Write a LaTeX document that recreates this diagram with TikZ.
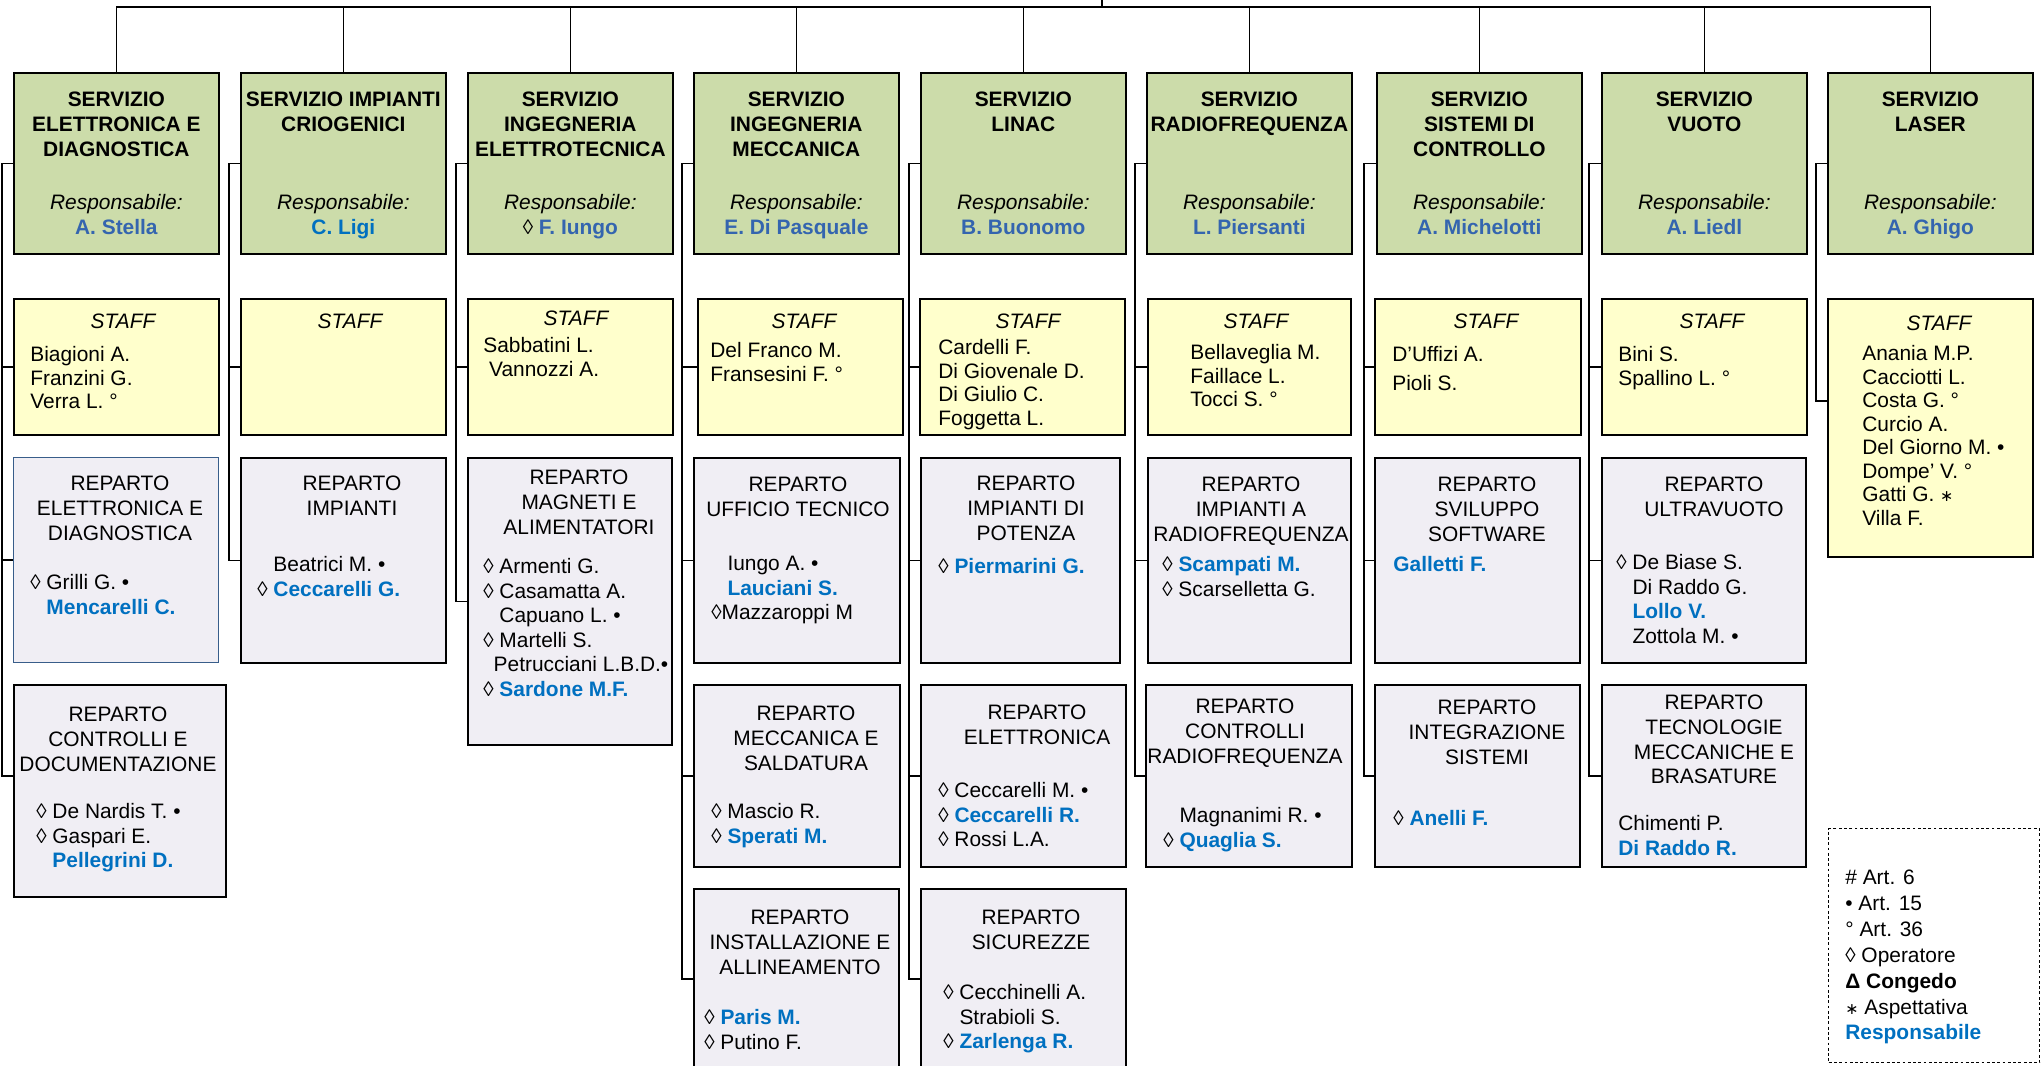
\documentclass[tikz,border=0pt]{standalone}
\usepackage{fontspec}
\setmainfont{Liberation Sans}
\newfontfamily\symfont{DejaVu Sans}

\definecolor{servgreen}{RGB}{204,220,170}
\definecolor{staffyellow}{RGB}{255,255,204}
\definecolor{repgrey}{RGB}{240,238,244}
\definecolor{respblue}{RGB}{0,112,192}
\definecolor{capoblue}{RGB}{52,101,175}
\definecolor{repborder}{RGB}{56,93,138}

\newcommand{\topstrut}{\rule{0pt}{12.2pt}}
\newcommand{\capo}[1]{{\color{capoblue}#1}\strut}
\newcommand{\resp}[1]{{\bfseries\color{respblue}#1}}
\newcommand{\respo}{\textmd{\textit{Responsabile:}}}
\newcommand{\ind}{\hphantom{◊}\ }
\newcommand{\asp}{{\symfont\fontsize{9}{9}\selectfont ∗}}

\begin{document}
\begin{tikzpicture}[x=0.02cm, y=-0.02cm,
            font=\fontsize{11.9}{14}\selectfont,
            conn/.style={line width=0.9pt},
            servizio/.style={draw, line width=1pt, fill=servgreen, anchor=north west, inner sep=0,
                minimum width=4.1cm, minimum height=3.62cm, align=center,
                font=\bfseries\fontsize{11.9}{14.2}\selectfont},
            staffbox/.style={draw, line width=1pt, fill=staffyellow, anchor=north west,
                minimum width=4.1cm, minimum height=2.72cm},
            reparto/.style={draw, line width=1pt, fill=repgrey, anchor=north west,
                minimum width=4.1cm, minimum height=4.1cm},
            legenda/.style={draw, line width=0.8pt, dash pattern=on 1.6pt off 1.4pt, anchor=north west,
                minimum width=4.22cm, minimum height=4.68cm},
            stafftitle/.style={inner sep=0, font=\itshape\fontsize{11.9}{14}\selectfont},
            titolo/.style={anchor=north, align=center, inner sep=0},
            nomi/.style={anchor=north west, align=left, inner sep=0},
            staffnomi/.style={nomi, font=\fontsize{11.9}{13.4}\selectfont}]
        \useasboundingbox (0,0) rectangle (2041,1065);
        \coordinate (top) at (1102,0);

        % servizi
        \node[servizio] (g1) at (13,72) {\topstrut SERVIZIO\\ELETTRONICA E\\DIAGNOSTICA\\[0.56cm]\respo\\\capo{A. Stella}};
        \node[servizio] (g2) at (240,72) {\topstrut SERVIZIO IMPIANTI\\CRIOGENICI\\[1.06cm]\respo\\{\color{respblue}C. Ligi}\strut};
        \node[servizio] (g3) at (467,72) {\topstrut SERVIZIO\\INGEGNERIA\\ELETTROTECNICA\\[0.56cm]\respo\\\textmd{◊} \capo{F. Iungo}};
        \node[servizio] (g4) at (693,72) {\topstrut SERVIZIO\\INGEGNERIA\\MECCANICA\\[0.56cm]\respo\\\capo{E. Di Pasquale}};
        \node[servizio] (g5) at (920,72) {\topstrut SERVIZIO\\LINAC\\[1.06cm]\respo\\\capo{B. Buonomo}};
        \node[servizio] (g6) at (1146,72) {\topstrut SERVIZIO\\RADIOFREQUENZA\\[1.06cm]\respo\\\capo{L. Piersanti}};
        \node[servizio] (g7) at (1376,72) {\topstrut SERVIZIO\\SISTEMI DI\\CONTROLLO\\[0.56cm]\respo\\\capo{A. Michelotti}};
        \node[servizio] (g8) at (1601,72) {\topstrut SERVIZIO\\VUOTO\\[1.06cm]\respo\\\capo{A. Liedl}};
        \node[servizio] (g9) at (1827,72) {\topstrut SERVIZIO\\LASER\\[1.06cm]\respo\\\capo{A. Ghigo}};

        \draw[conn] (top) -- ++(0,7) -| (g1.north);
        \draw[conn] (top) -- ++(0,7) -| (g2.north);
        \draw[conn] (top) -- ++(0,7) -| (g3.north);
        \draw[conn] (top) -- ++(0,7) -| (g4.north);
        \draw[conn] (top) -- ++(0,7) -| (g5.north);
        \draw[conn] (top) -- ++(0,7) -| (g6.north);
        \draw[conn] (top) -- ++(0,7) -| (g7.north);
        \draw[conn] (top) -- ++(0,7) -| (g8.north);
        \draw[conn] (top) -- ++(0,7) -| (g9.north);

        % staff
        \node[staffbox] (s1) at (13,298) {};
        \node[staffbox] (s2) at (240,298) {};
        \node[staffbox] (s3) at (467,298) {};
        \node[staffbox] (s4) at (697,298) {};
        \node[staffbox] (s5) at (919,298) {};
        \node[staffbox, minimum width=4.06cm] (s6) at (1147,298) {};
        \node[staffbox, minimum width=4.12cm] (s7) at (1374,298) {};
        \node[staffbox] (s8) at (1601,298) {};
        \node[staffbox, minimum height=5.16cm] (s9) at (1827,298) {};

        \node[stafftitle] (st1) at (123,321) {STAFF};
        \node[stafftitle] (st2) at (350,321) {STAFF};
        \node[stafftitle] (st3) at (576,318) {STAFF};
        \node[stafftitle] (st4) at (804,321) {STAFF};
        \node[stafftitle] (st5) at (1028,321) {STAFF};
        \node[stafftitle] (st6) at (1256,321) {STAFF};
        \node[stafftitle] (st7) at (1486,321) {STAFF};
        \node[stafftitle] (st8) at (1712,321) {STAFF};
        \node[stafftitle] (st9) at (1939,323) {STAFF};

        \node[staffnomi] (sn1) at (30,346) {Biagioni A.\\Franzini G.\\Verra L. °};
        \node[staffnomi] (sn3) at (483,337) {Sabbatini L.\\\ Vannozzi A.};
        \node[staffnomi] (sn4) at (710,342) {Del Franco M.\\Fransesini F. °};
        \node[staffnomi] (sn5) at (938,339) {Cardelli F.\\Di Giovenale D.\\Di Giulio C.\\Foggetta L.};
        \node[staffnomi] (sn6) at (1190,344) {Bellaveglia M.\\Faillace L.\\Tocci S. °};
        \node[staffnomi] (sn7) at (1392,346) {D’Uffizi A.\\[0.1cm]Pioli S.};
        \node[staffnomi] (sn8) at (1618,346) {Bini S.\\Spallino L. °};
        \node[staffnomi] (sn9) at (1862,345) {Anania M.P.\\Cacciotti L.\\Costa G. °\\Curcio A.\\Del Giorno M. •\\Dompe’ V. °\\Gatti G. \asp\\Villa F.};

        % reparti
        \node[reparto, draw=repborder, line width=0.8pt] (r1a) at (13,457) {};
        \node[reparto, minimum width=4.24cm, minimum height=4.24cm] (r1b) at (13,684) {};
        \node[reparto] (r2a) at (240,457) {};
        \node[reparto, minimum width=4.08cm, minimum height=5.74cm] (r3a) at (467,457) {};
        \node[reparto, minimum width=4.12cm] (r4a) at (693,457) {};
        \node[reparto, minimum width=4.12cm, minimum height=3.64cm] (r4b) at (693,684) {};
        \node[reparto, minimum height=3.6cm] (r4c) at (693,888) {};
        \node[reparto, minimum width=3.98cm] (r5a) at (920,457) {};
        \node[reparto, minimum height=3.64cm] (r5b) at (920,684) {};
        \node[reparto, minimum height=3.6cm] (r5c) at (920,888) {};
        \node[reparto, minimum width=4.06cm] (r6a) at (1147,457) {};
        \node[reparto, minimum width=4.12cm, minimum height=3.64cm] (r6b) at (1145,684) {};
        \node[reparto] (r7a) at (1374,457) {};
        \node[reparto, minimum height=3.64cm] (r7b) at (1374,684) {};
        \node[reparto, minimum width=4.08cm] (r8a) at (1601,457) {};
        \node[reparto, minimum width=4.08cm, minimum height=3.64cm] (r8b) at (1601,684) {};

        \node[titolo] (t1a) at (120,476) {REPARTO\\ELETTRONICA E\\DIAGNOSTICA};
        \node[titolo] (t1b) at (118,707) {REPARTO\\CONTROLLI E\\DOCUMENTAZIONE};
        \node[titolo] (t2a) at (352,476) {REPARTO\\IMPIANTI};
        \node[titolo] (t3a) at (579,470) {REPARTO\\MAGNETI E\\ALIMENTATORI};
        \node[titolo] (t4a) at (798,477) {REPARTO\\UFFICIO TECNICO};
        \node[titolo] (t4b) at (806,706) {REPARTO\\MECCANICA E\\SALDATURA};
        \node[titolo] (t4c) at (800,910) {REPARTO\\INSTALLAZIONE E\\ALLINEAMENTO};
        \node[titolo] (t5a) at (1026,476) {REPARTO\\IMPIANTI DI\\POTENZA};
        \node[titolo] (t5b) at (1037,705) {REPARTO\\ELETTRONICA};
        \node[titolo] (t5c) at (1031,910) {REPARTO\\SICUREZZE};
        \node[titolo] (t6a) at (1251,477) {REPARTO\\IMPIANTI A\\RADIOFREQUENZA};
        \node[titolo] (t6b) at (1245,699) {REPARTO\\CONTROLLI\\RADIOFREQUENZA};
        \node[titolo] (t7a) at (1487,477) {REPARTO\\SVILUPPO\\SOFTWARE};
        \node[titolo] (t7b) at (1487,700) {REPARTO\\INTEGRAZIONE\\SISTEMI};
        \node[titolo] (t8a) at (1714,477) {REPARTO\\ULTRAVUOTO};
        \node[titolo] (t8b) at (1714,695) {REPARTO\\TECNOLOGIE\\MECCANICHE E\\BRASATURE};

        \node[nomi] (n1a) at (30,574) {◊ Grilli G. •\\\ind\resp{Mencarelli C.}};
        \node[nomi] (n1b) at (36,803) {◊ De Nardis T. •\\◊ Gaspari E.\\\ind\resp{Pellegrini D.}};
        \node[nomi] (n2a) at (257,556) {\ind Beatrici M. •\\◊ \resp{Ceccarelli G.}};
        \node[nomi] (n3a) at (483,558) {◊ Armenti G.\\◊ Casamatta A.\\\ind Capuano L. •\\◊ Martelli S.\\\hphantom{◊}Petrucciani L.B.D.•\\◊ \resp{Sardone M.F.}};
        \node[nomi] (n4a) at (711,556) {\ind Iungo A. •\\\ind\resp{Lauciani S.}\\◊Mazzaroppi M};
        \node[nomi] (n4b) at (711,803) {◊ Mascio R.\\◊ \resp{Sperati M.}};
        \node[nomi] (n4c) at (704,1009) {◊ \resp{Paris M.}\\◊ Putino F.};
        \node[nomi] (n5a) at (938,558) {◊ \resp{Piermarini G.}};
        \node[nomi] (n5b) at (938,782) {◊ Ceccarelli M. •\\◊ \resp{Ceccarelli R.}\\◊ Rossi L.A.};
        \node[nomi] (n5c) at (943,984) {◊ Cecchinelli A.\\\ind Strabioli S.\\◊ \resp{Zarlenga R.}};
        \node[nomi] (n6a) at (1162,556) {◊ \resp{Scampati M.}\\◊ Scarselletta G.};
        \node[nomi] (n6b) at (1163,807) {\ind Magnanimi R. •\\◊ \resp{Quaglia S.}};
        \node[nomi] (n7a) at (1393,556) {\resp{Galletti F.}};
        \node[nomi] (n7b) at (1393,810) {◊ \resp{Anelli F.}};
        \node[nomi] (n8a) at (1616,554) {◊ De Biase S.\\\ind Di Raddo G.\\\ind\resp{Lollo V.}\\\ind Zottola M. •};
        \node[nomi] (n8b) at (1618,815) {Chimenti P.\\\resp{Di Raddo R.}};

        % collegamenti
        \draw[conn] (g1.west) -- ++(-11,0) |- (s1.west);
        \draw[conn] (g1.west) -- ++(-11,0) |- (r1a.west);
        \draw[conn] (g1.west) -- ++(-11,0) |- ([yshift=0.3cm]r1b.west);
        \draw[conn] (g2.west) -- ++(-11,0) |- (s2.west);
        \draw[conn] (g2.west) -- ++(-11,0) |- (r2a.west);
        \draw[conn] (g3.west) -- ++(-11,0) |- (s3.west);
        \draw[conn] (g3.west) -- ++(-11,0) |- (r3a.west);
        \draw[conn] (g4.west) -- ++(-11,0) |- (s4.west);
        \draw[conn] (g4.west) -- ++(-11,0) |- (r4a.west);
        \draw[conn] (g4.west) -- ++(-11,0) |- (r4b.west);
        \draw[conn] (g4.west) -- ++(-11,0) |- (r4c.west);
        \draw[conn] (g5.west) -- ++(-11,0) |- (s5.west);
        \draw[conn] (g5.west) -- ++(-11,0) |- (r5a.west);
        \draw[conn] (g5.west) -- ++(-11,0) |- (r5b.west);
        \draw[conn] (g5.west) -- ++(-11,0) |- (r5c.west);
        \draw[conn] (g6.west) -- ++(-11,0) |- (s6.west);
        \draw[conn] (g6.west) -- ++(-11,0) |- (r6a.west);
        \draw[conn] (g6.west) -- ++(-11,0) |- (r6b.west);
        \draw[conn] (g7.west) -- ++(-12,0) |- (s7.west);
        \draw[conn] (g7.west) -- ++(-12,0) |- (r7a.west);
        \draw[conn] (g7.west) -- ++(-12,0) |- (r7b.west);
        \draw[conn] (g8.west) -- ++(-12,0) |- (s8.west);
        \draw[conn] (g8.west) -- ++(-12,0) |- (r8a.west);
        \draw[conn] (g8.west) -- ++(-12,0) |- (r8b.west);
        \draw[conn] (g9.west) -- ++(-11,0) |- ([yshift=0.54cm]s9.west);

        % legenda
        \node[legenda] (leg) at (1828,828) {};
        \node[nomi, font=\fontsize{11.9}{14.7}\selectfont] (legt) at (1845,870) {\# Art. 6\\• Art. 15\\° Art. 36\\◊ Operatore\\\textbf{Δ Congedo}\\\asp\ Aspettativa\\\resp{Responsabile}};
    \end{tikzpicture}
\end{document}
